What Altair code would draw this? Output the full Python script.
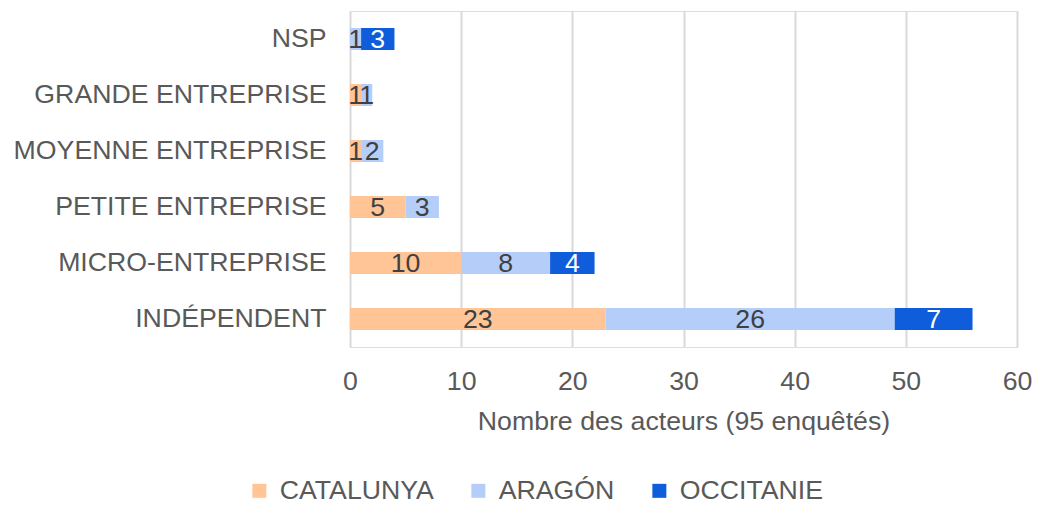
import altair as alt
import pandas as pd

categories = ["NSP", "GRANDE ENTREPRISE", "MOYENNE ENTREPRISE",
              "PETITE ENTREPRISE", "MICRO-ENTREPRISE", "INDÉPENDENT"]
series = ["CATALUNYA", "ARAGÓN", "OCCITANIE"]
catalunya = [0, 1, 1, 5, 10, 23]
aragon = [1, 1, 2, 3, 8, 26]
occitanie = [3, 0, 0, 0, 4, 7]
colors = ["#FFC597", "#B4CEF9", "#0F5DDB"]
text_colors = ["#404040", "#404040", "#FFFFFF"]
x_ticks = [0, 10, 20, 30, 40, 50, 60]

rows = []
for si, (s, vals) in enumerate(zip(series, [catalunya, aragon, occitanie])):
    for c, v in zip(categories, vals):
        rows.append({"category": c, "series": s, "value": v, "order": si,
                     "tcolor": text_colors[si]})
df = pd.DataFrame(rows)

FONT = "Liberation Sans"
FS = 26.7

base = alt.Chart(df).transform_filter("datum.value > 0")

y_enc = alt.Y("category:N", sort=categories, title=None,
              scale=alt.Scale(paddingInner=0, paddingOuter=0),
              axis=alt.Axis(labelFont=FONT, labelFontSize=FS, labelColor="#595959",
                            labelPadding=24, ticks=False, domain=False, labelLimit=500))

bars = base.mark_bar(size=22).encode(
    x=alt.X("value:Q", stack="zero",
            scale=alt.Scale(domain=[0, 60], nice=False),
            axis=alt.Axis(values=x_ticks, title="Nombre des acteurs (95 enquêtés)",
                          labelFont=FONT, labelFontSize=FS, labelColor="#595959",
                          labelPadding=21, ticks=False, domain=False, labelFlush=False,
                          grid=True, gridColor="#D9D9D9", gridWidth=2,
                          titleFont=FONT, titleFontSize=FS, titleColor="#595959",
                          titleFontWeight="normal", titlePadding=14)),
    y=y_enc,
    color=alt.Color("series:N", sort=series,
                    scale=alt.Scale(domain=series, range=colors),
                    legend=alt.Legend(title=None, orient="none", direction="horizontal",
                                      legendX=-104, legendY=466,
                                      symbolType="square", symbolSize=196,
                                      symbolStrokeWidth=0,
                                      labelFont=FONT, labelFontSize=FS, labelColor="#595959",
                                      labelOffset=7, columnPadding=31, labelLimit=400)),
    order=alt.Order("order:Q"),
)

labels = base.transform_stack(
    stack="value", groupby=["category"], as_=["x0", "x1"],
    sort=[alt.SortField("order", order="ascending")]
).transform_calculate(mid="(datum.x0 + datum.x1) / 2").mark_text(
    font=FONT, fontSize=FS, baseline="middle", align="center", dy=1
).encode(
    x=alt.X("mid:Q"),
    y=alt.Y("category:N", sort=categories),
    text=alt.Text("value:Q"),
    color=alt.Color("tcolor:N", scale=None),
)

chart = alt.layer(bars, labels).properties(
    width=667, height=336,
    autosize=alt.AutoSizeParams(type="none"),
    padding={"left": 342, "top": 3, "right": 15, "bottom": 157},
).configure_view(stroke=None).configure(background="white")

chart.save("out.html", embed_options={"renderer": "svg", "actions": False})
